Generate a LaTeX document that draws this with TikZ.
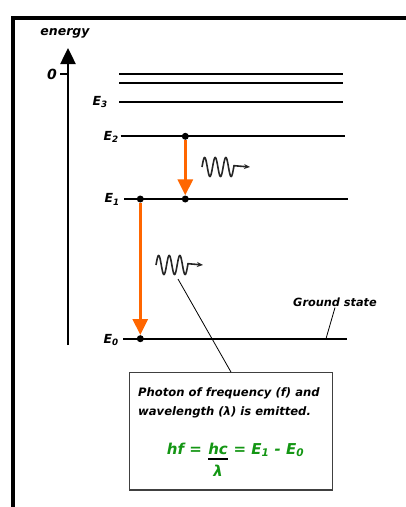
\documentclass[tikz,border=0pt]{standalone}
\usepackage{fontspec}
\setmainfont{DejaVu Sans}
\usetikzlibrary{arrows.meta}
\definecolor{arroworange}{RGB}{255,102,0}
\definecolor{formgreen}{RGB}{20,150,20}
\begin{document}
\begin{tikzpicture}[x=1pt,y=-1pt,
  lbl/.style={font=\fontsize{12.5}{14}\selectfont\bfseries\itshape, inner sep=1pt},
  zerolbl/.style={font=\fontsize{14}{16}\selectfont\bfseries\itshape, inner sep=1pt},
  axlbl/.style={font=\fontsize{12.5}{14}\selectfont\bfseries\itshape, inner sep=1pt},
  gslbl/.style={font=\fontsize{11.3}{13}\selectfont\bfseries\itshape, inner sep=1pt},
  boxtxt/.style={font=\fontsize{11.6}{14}\selectfont\bfseries\itshape, inner sep=0pt},
  form/.style={font=\fontsize{15}{17}\selectfont\bfseries\itshape, text=formgreen, inner sep=0pt},
  level/.style={line width=2pt},
  dot/.style={circle, fill=black, inner sep=0pt, minimum size=7pt},
  down/.style={draw=arroworange, line width=3pt, -{Triangle[width=15pt,length=16pt]}},
  wave/.style={line width=1.6pt, draw=black!85, -{Stealth[length=6pt,width=5pt]}},
  thinline/.style={line width=0.8pt}]
\useasboundingbox (0,0) rectangle (406,507);
% frame
\draw[line width=3.5pt] (13,507) -- (13,18) -- (406,18);
% energy axis
\coordinate (axbot) at (68,345);
\coordinate (axtop) at (68,48);
\draw[line width=2.5pt, -{Triangle[width=15pt,length=16pt]}] (axbot) -- (axtop);
\coordinate (tickl) at (60,74);
\coordinate (tickr) at (68,74);
\draw[line width=1.5pt] (tickl) -- (tickr);
\node[zerolbl] (zero) at (52,74) {0};
\node[axlbl] (energy) at (65,33) {energy};
% levels
\draw[level] (119,74) -- (343,74);
\draw[level] (119,82.7) -- (343,82.7);
\draw[level] (119,101.7) -- (343,101.7);
\draw[level] (120.7,136.3) -- (345,136.3);
\draw[level] (124,199) -- (348,199);
\draw[level] (123.3,338.7) -- (346.7,338.7);
\node[lbl, anchor=east] (e3) at (109,102) {E\textsubscript{3}};
\node[lbl, anchor=east] (e2) at (120,137) {E\textsubscript{2}};
\node[lbl, anchor=east] (e1) at (121,199.5) {E\textsubscript{1}};
\node[lbl, anchor=east] (e0) at (120,340) {E\textsubscript{0}};
% dots
\node[dot] (d2) at (185.3,136.3) {};
\node[dot] (d1b) at (185.3,199) {};
\node[dot] (d1a) at (140.3,199) {};
\node[dot] (d0) at (140.3,338.7) {};
% transitions
\draw[down] (d2) -- (d1b);
\draw[down] (d1a) -- (d0);
% photons
\draw[wave] plot[domain=0:32,samples=100] ({202+\x},{167-9.5*sin(34*\x)}) -- (250,167);
\draw[wave] plot[domain=0:32,samples=100] ({156+\x},{265-9.5*sin(34*\x)}) -- (203,265);
% ground state label
\node[gslbl] (gs) at (335,302) {Ground state};
\coordinate (gsend) at (326,338.7);
\draw[thinline] (gs.south) -- (gsend);
% box
\node[draw=black!75, line width=1.2pt, minimum width=203.4pt, minimum height=117.3pt, inner sep=0pt] (box) at (231,431.35) {};
\coordinate (wtail) at (178,279);
\draw[thinline] (wtail) -- (box.north);
\node[boxtxt, anchor=base west] (t1) at (138,396) {Photon of frequency (f) and};
\node[boxtxt, anchor=base west] (t2) at (138,415) {wavelength (λ) is emitted.};
% formula
\node[form, anchor=base west] (fa) at (166.7,454) {hf =\kern0.4em};
\node[form, anchor=base west] (fb) at (fa.base east) {hc};
\node[form, anchor=base west] (fc) at (fb.base east) {\kern0.35em= E\textsubscript{1} - E\textsubscript{0}};
\draw[line width=2pt] ([yshift=-5pt]fb.base west) -- ([yshift=-5pt]fb.base east);
\node[form, anchor=base] (lam) at ([yshift=-22pt]fb.base) {λ};
\end{tikzpicture}
\end{document}
